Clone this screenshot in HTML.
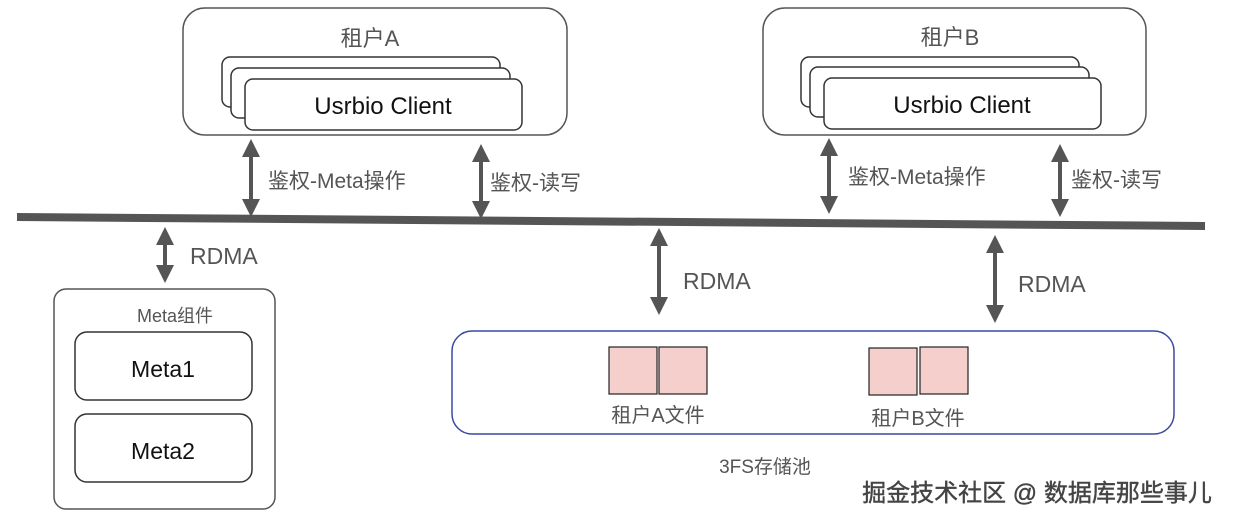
<!DOCTYPE html>
<html><head><meta charset="utf-8"><style>
body{margin:0;background:#fff}
svg{display:block}
text{font-family:"Liberation Sans","Noto Sans CJK SC",sans-serif}
</style></head><body>
<svg width="1234" height="522" viewBox="0 0 1234 522">
<defs>
<marker id="ah" viewBox="0 0 10 10" refX="5" refY="5" markerWidth="4.5" markerHeight="4.5" orient="auto-start-reverse"><path d="M0,0 L10,5 L0,10 z" fill="#555"/></marker>
</defs>
<rect x="183" y="8" width="384" height="127" rx="22" fill="#fff" stroke="#555" stroke-width="1.5"/>
<text x="370" y="46" font-size="22" fill="#555" text-anchor="middle">租户A</text>
<rect x="222" y="57" width="278" height="50" rx="8" fill="#fff" stroke="#333" stroke-width="1.5"/>
<rect x="231" y="68" width="279" height="50" rx="8" fill="#fff" stroke="#333" stroke-width="1.5"/>
<rect x="245" y="79" width="277" height="51" rx="8" fill="#fff" stroke="#333" stroke-width="1.5"/>
<text x="383" y="114" font-size="24" fill="#111" text-anchor="middle">Usrbio Client</text>
<rect x="763" y="8" width="383" height="127" rx="22" fill="#fff" stroke="#555" stroke-width="1.5"/>
<text x="950" y="45" font-size="22" fill="#555" text-anchor="middle">租户B</text>
<rect x="801" y="57" width="278" height="50" rx="8" fill="#fff" stroke="#333" stroke-width="1.5"/>
<rect x="810" y="67" width="279" height="50" rx="8" fill="#fff" stroke="#333" stroke-width="1.5"/>
<rect x="824" y="78" width="277" height="51" rx="8" fill="#fff" stroke="#333" stroke-width="1.5"/>
<text x="962" y="113" font-size="24" fill="#111" text-anchor="middle">Usrbio Client</text>
<g stroke="#555" stroke-width="4" marker-start="url(#ah)" marker-end="url(#ah)">
<line x1="251" y1="148" x2="251" y2="208"/>
<line x1="481" y1="153" x2="481" y2="210"/>
<line x1="829" y1="147" x2="829" y2="205"/>
<line x1="1060" y1="153" x2="1060" y2="208"/>
<line x1="165" y1="236" x2="165" y2="274"/>
<line x1="659" y1="237" x2="659" y2="306"/>
<line x1="995" y1="244" x2="995" y2="314"/>
</g>
<g font-size="21" fill="#555">
<text x="268" y="188">鉴权-Meta操作</text>
<text x="490" y="190">鉴权-读写</text>
<text x="848" y="184">鉴权-Meta操作</text>
<text x="1071" y="187">鉴权-读写</text>
<text x="190" y="264" font-size="23">RDMA</text>
<text x="683" y="289" font-size="23">RDMA</text>
<text x="1018" y="292" font-size="23">RDMA</text>
</g>
<polygon points="17,213 1205,222 1205,230 17,221" fill="#555"/>
<rect x="54" y="289" width="221" height="220" rx="12" fill="#fff" stroke="#555" stroke-width="1.5"/>
<text x="175" y="322" font-size="18" fill="#555" text-anchor="middle">Meta组件</text>
<rect x="75" y="332" width="177" height="68" rx="12" fill="#fff" stroke="#333" stroke-width="1.5"/>
<text x="163" y="377" font-size="23" fill="#111" text-anchor="middle">Meta1</text>
<rect x="75" y="414" width="177" height="68" rx="12" fill="#fff" stroke="#333" stroke-width="1.5"/>
<text x="163" y="459" font-size="23" fill="#111" text-anchor="middle">Meta2</text>
<rect x="452" y="331" width="722" height="103" rx="20" fill="#fff" stroke="#3a4aa0" stroke-width="1.5"/>
<g fill="#f4cfcb" stroke="#222" stroke-width="1.2">
<rect x="609" y="347" width="48" height="47"/>
<rect x="659" y="347" width="48" height="47"/>
<rect x="869" y="348" width="48" height="47"/>
<rect x="920" y="347" width="48" height="47"/>
</g>
<text x="658" y="422" font-size="20" fill="#555" text-anchor="middle">租户A文件</text>
<text x="918" y="425" font-size="20" fill="#555" text-anchor="middle">租户B文件</text>
<text x="765" y="473" font-size="19" fill="#555" text-anchor="middle">3FS存储池</text>
<text x="1037" y="501" font-size="24" fill="#444" stroke="#444" stroke-width="0.4" text-anchor="middle">掘金技术社区 @ 数据库那些事儿</text>
</svg>
</body></html>
